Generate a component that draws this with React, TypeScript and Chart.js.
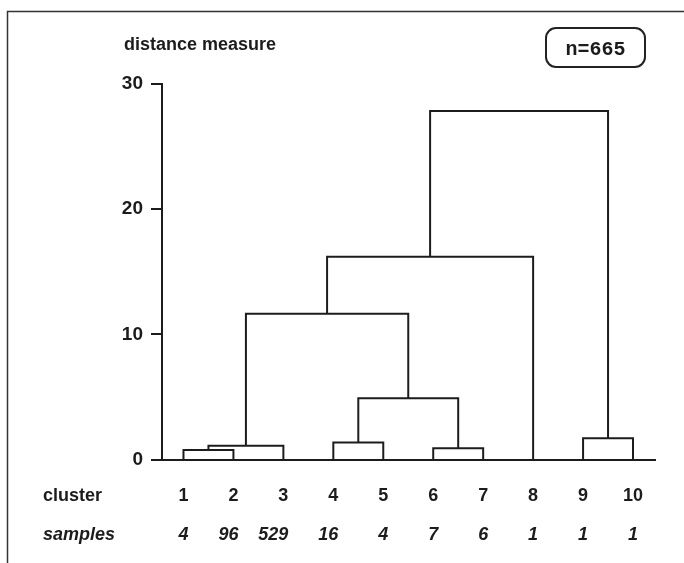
import React, { useEffect, useRef } from "react";
import { Chart, registerables } from "chart.js";

Chart.register(...registerables);

// ---- data ----
const clusterLabels = ["1", "2", "3", "4", "5", "6", "7", "8", "9", "10"];
const sampleCounts = ["4", "96", "529", "16", "4", "7", "6", "1", "1", "1"];
// merge steps: left node, right node, merge height (distance measure)
const mergeLeft = ["L1", "M1", "L4", "L6", "M3", "M2", "M6", "L9", "M7"];
const mergeRight = ["L2", "L3", "L5", "L7", "M4", "M5", "L8", "L10", "M8"];
const mergeHeight = [0.75, 1.1, 1.35, 0.9, 4.9, 11.65, 16.2, 1.7, 27.85];
const yTicks = [0, 10, 20, 30];
const yTitle = "distance measure";
const nLabel = "n=665";

const INK = "#1c1c1c";
const SANS = "'Liberation Sans', Arial, sans-serif";

function buildSegments() {
  const pos: Record<string, { x: number; h: number }> = {};
  clusterLabels.forEach((_, i) => {
    pos["L" + (i + 1)] = { x: i + 1, h: 0 };
  });
  const segs: { x: number; y: number }[][] = [];
  mergeHeight.forEach((h, k) => {
    const a = pos[mergeLeft[k]];
    const b = pos[mergeRight[k]];
    segs.push([
      { x: a.x, y: a.h },
      { x: a.x, y: h },
      { x: b.x, y: h },
      { x: b.x, y: b.h },
    ]);
    pos["M" + (k + 1)] = { x: (a.x + b.x) / 2, h };
  });
  return segs;
}

const overlayPlugin = {
  id: "overlay",
  beforeDraw(chart: any) {
    const ctx = chart.ctx;
    ctx.save();
    ctx.fillStyle = "#ffffff";
    ctx.fillRect(0, 0, chart.width, chart.height);
    ctx.restore();
  },
  afterDraw(chart: any) {
    const ctx = chart.ctx;
    const xs = chart.scales.x;
    ctx.save();
    // frame (top and left edges)
    ctx.strokeStyle = "#333";
    ctx.lineWidth = 1.5;
    ctx.beginPath();
    ctx.moveTo(7.5, chart.height + 2);
    ctx.lineTo(7.5, 11.5);
    ctx.lineTo(chart.width + 2, 11.5);
    ctx.stroke();

    ctx.fillStyle = INK;
    ctx.textBaseline = "alphabetic";
    // axis title
    ctx.font = "bold 18px " + SANS;
    ctx.textAlign = "left";
    ctx.fillText(yTitle, 124, 50);

    // n box
    const bx = 546, by = 28, bw = 99, bh = 39, r = 10;
    ctx.strokeStyle = "#222";
    ctx.lineWidth = 2;
    ctx.beginPath();
    ctx.roundRect(bx, by, bw, bh, r);
    ctx.stroke();
    ctx.font = "bold 20px 'Liberation Mono', 'Courier New', monospace";
    ctx.textAlign = "center";
    ctx.fillText(nLabel, bx + bw / 2, 55);

    // cluster row
    ctx.font = "bold 18px " + SANS;
    ctx.textAlign = "left";
    ctx.fillText("cluster", 43, 501);
    ctx.textAlign = "center";
    clusterLabels.forEach((c, i) => {
      ctx.fillText(c, xs.getPixelForValue(i + 1), 501);
    });
    // samples row
    ctx.font = "italic bold 18px " + SANS;
    ctx.textAlign = "left";
    ctx.fillText("samples", 43, 540);
    ctx.textAlign = "right";
    sampleCounts.forEach((s, i) => {
      ctx.fillText(s, xs.getPixelForValue(i + 1) + 5, 540);
    });
    ctx.restore();
  },
};

export default function App() {
  const ref = useRef<HTMLCanvasElement | null>(null);
  useEffect(() => {
    if (!ref.current) return;
    const segs = buildSegments();
    const chart = new Chart(ref.current, {
      type: "line",
      data: {
        datasets: segs.map((s) => ({
          data: s,
          borderColor: INK,
          borderWidth: 2,
          pointRadius: 0,
          fill: false,
          tension: 0,
        })),
      },
      options: {
        responsive: false,
        animation: false,
        events: [],
        layout: { padding: { left: 0, top: 84, right: 29, bottom: 103.5 } },
        plugins: { legend: { display: false }, tooltip: { enabled: false } },
        scales: {
          x: {
            type: "linear",
            min: 0.57,
            max: 10.44,
            ticks: { display: false },
            grid: { display: false, drawTicks: false },
            border: { display: true, color: INK, width: 2 },
            afterFit: (s: any) => {
              s.height = 0;
            },
          },
          y: {
            type: "linear",
            min: 0,
            max: 30,
            afterBuildTicks: (s: any) => {
              s.ticks = yTicks.map((v) => ({ value: v }));
            },
            ticks: {
              color: INK,
              padding: 8,
              font: { family: SANS, size: 19, weight: "bold" },
            },
            grid: { drawOnChartArea: false, drawTicks: true, tickLength: 11, color: INK, lineWidth: 2 },
            border: { display: true, color: INK, width: 2 },
            afterFit: (s: any) => {
              s.width = 162;
            },
          },
        },
      },
      plugins: [overlayPlugin],
    });
    return () => chart.destroy();
  }, []);
  return (
    <div style={{ position: "absolute", left: 0, top: 0, width: 684, height: 563 }}>
      <canvas ref={ref} width={684} height={563} />
    </div>
  );
}
